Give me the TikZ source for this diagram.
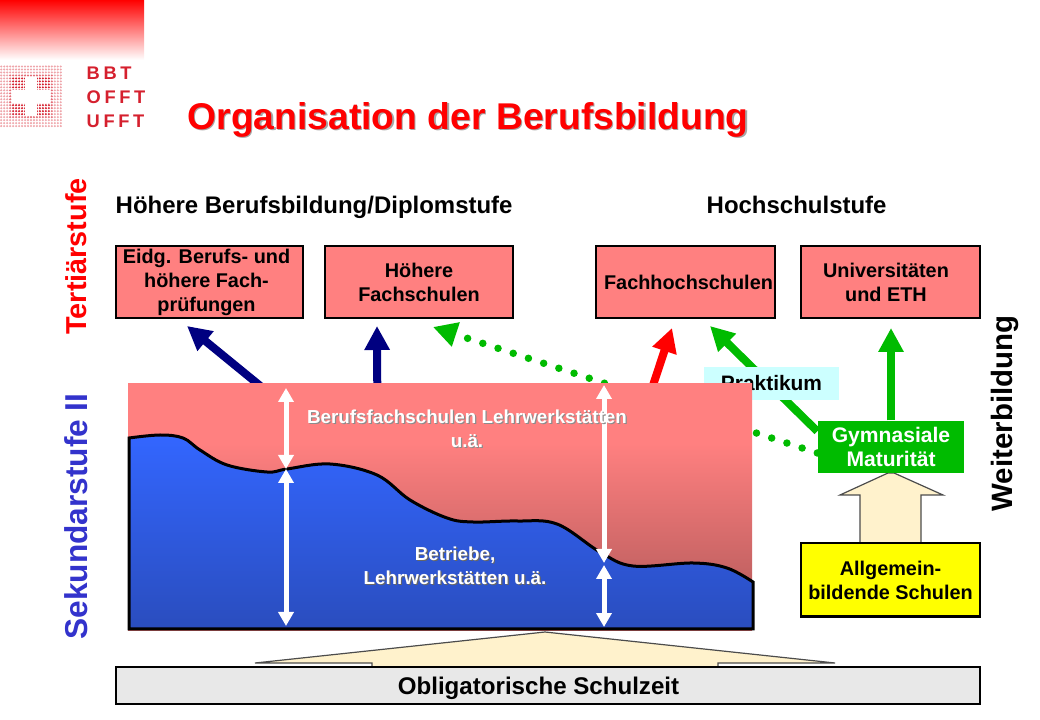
\documentclass[tikz,border=0pt]{standalone}
\usepackage{fontspec}
\setmainfont{Liberation Sans}
\newfontfamily\logofont[LetterSpace=20]{Liberation Sans}
\usetikzlibrary{arrows.meta, backgrounds}

\definecolor{boxred}{HTML}{FF8080}
\definecolor{boxgreen}{HTML}{00BB00}
\definecolor{boxcream}{HTML}{FFF2CC}
\definecolor{boxyellow}{HTML}{FFFF00}
\definecolor{navyline}{HTML}{000080}
\definecolor{logored}{HTML}{D5202E}

% Text with a soft shadow behind it
\newcommand{\shadowtxt}[2]{\leavevmode\rlap{\kern0.35pt\raisebox{-0.35pt}{\color{#1}#2}}#2}
% Bold text in a given size, always the same leading
\newcommand{\bodyfont}[1]{\fontsize{#1}{6.85}\selectfont\bfseries}

\pgfdeclareverticalshading{panelshade}{100bp}{color(0bp)=(boxred!70!black); color(36bp)=(boxred!77!black); color(63bp)=(boxred); color(100bp)=(boxred)}

\tikzset{
	bodytext/.style={font=\bodyfont{5.65}, align=center, inner sep=0pt},
	schoolbox/.style={draw=black, line width=0.02cm, fill=boxred, minimum height=0.72cm, inner sep=0pt, bodytext},
	sidetext/.style={rotate=90, inner sep=0pt},
	logotext/.style={font=\logofont\fontsize{5.2}{5}\selectfont\bfseries, text=logored, anchor=west, inner sep=0pt},
	upstrich/.style={-{Triangle[length=0.24cm, width=0.24cm]}, line width=0.08cm},
	whitearrow/.style={{Triangle[length=0.14cm, width=0.15cm]}-{Triangle[length=0.14cm, width=0.15cm]}, white, line width=0.05cm},
	creamarrow/.style={draw=black!70, line width=0.012cm, fill=boxcream}
}

\begin{document}
\begin{tikzpicture}[x=1cm, y=-1cm]
	\useasboundingbox (0,0) rectangle (10.4,7.2);

	% Logo oben links
	\shade[top color=red, bottom color=white] (0,0) rectangle (1.44,0.6);
	\foreach \i in {0,...,20} {
		\foreach \j in {0,...,20} {
			\pgfmathsetmacro{\dotx}{0.012+0.0298*\i}
			\pgfmathsetmacro{\doty}{0.665+0.0298*\j}
			\pgfmathtruncatemacro{\dist}{max(abs(\i-10),abs(\j-10))}
			\pgfmathtruncatemacro{\dotpct}{\dist<7 ? 100 : (\dist<8 ? 65 : 40)}
			\fill[logored!\dotpct!white] (\dotx,\doty) circle (0.0115);
		}
	}
	\fill[white] (0.12,0.90) rectangle (0.50,1.03);
	\fill[white] (0.25,0.77) rectangle (0.37,1.16);
	\node[logotext] (bbt) at (0.86,0.735) {BBT};
	\node[logotext] (offt) at (0.86,0.975) {OFFT};
	\node[logotext] (ufft) at (0.86,1.215) {UFFT};

	% Titel
	\node[font=\fontsize{10.6}{12}\selectfont\bfseries, text=red, anchor=base west, inner sep=0pt] (title) at (1.87,1.295) {\shadowtxt{black!35}{Organisation der Berufsbildung}};

	% Seitliche Beschriftungen
	\node[sidetext, font=\fontsize{8.2}{9}\selectfont\bfseries, text=red] (tertiaer) at (0.765,2.565) {Tertiärstufe};
	\node[sidetext, font=\fontsize{9}{9}\selectfont\bfseries, text={rgb,255:red,51;green,51;blue,204}] (sekundar) at (0.765,5.165) {Sekundarstufe II};
	\node[sidetext, font=\fontsize{8.37}{9}\selectfont\bfseries] (weiter) at (10.05,4.135) {Weiterbildung};

	% Stufen
	\node[bodytext, font=\bodyfont{6.82}, anchor=base west] (diplom) at (1.15,2.14) {Höhere Berufsbildung/Diplomstufe};
	\node[bodytext, font=\bodyfont{6.82}, anchor=base west] (hochschul) at (7.06,2.14) {Hochschulstufe};

	% Obere Kaesten
	\node[schoolbox, minimum width=1.87cm] (eidg) at (2.095,2.82) {\hspace*{-0.06cm}Eidg. Berufs- und\\\hspace*{-0.06cm}höhere Fach-\\\hspace*{-0.06cm}prüfungen};
	\node[schoolbox, minimum width=1.88cm] (hfs) at (4.19,2.82) {Höhere\\Fachschulen};
	\node[schoolbox, minimum width=1.79cm] (fh) at (6.855,2.82) {\hspace*{0.06cm}Fachhochschulen};
	\node[schoolbox, minimum width=1.79cm] (uni) at (8.905,2.82) {\hspace*{-0.09cm}Universitäten\\\hspace*{-0.09cm}und ETH};

	% Spitzen der Pfeile
	\coordinate (tipeidg) at (1.87,3.26);
	\coordinate (tiphfs) at (3.77,3.26);
	\coordinate (tipdots) at (4.33,3.27);
	\coordinate (tipfh) at (6.72,3.28);
	\coordinate (tipprakt) at (7.10,3.26);
	\coordinate (tipuni) at (8.91,3.28);

	% Praktikum und Maturitaet
	\node[fill={rgb,255:red,204;green,255;blue,255}, minimum width=1.35cm, minimum height=0.33cm, bodytext, font=\bodyfont{5.95}] (prakt) at (7.715,3.835) {Praktikum};
	\node[fill=boxgreen, text=white, minimum width=1.46cm, minimum height=0.52cm, bodytext, font=\bodyfont{6}] (gym) at (8.91,4.47) {Gymnasiale\\Maturität};

	% Grosse Flaeche
	\node[shading=panelshade, minimum width=6.24cm, minimum height=2.46cm, inner sep=0pt] (panel) at (4.40,5.07) {};
	\shade[top color={rgb,255:red,51;green,102;blue,255}, bottom color={rgb,255:red,42;green,77;blue,190}, draw=black, line width=0.03cm]
		plot[smooth, tension=0.6] coordinates {(1.29,4.38) (1.60,4.35) (1.83,4.38) (2.00,4.50) (2.27,4.65) (2.67,4.72) (2.87,4.69) (3.30,4.64) (3.77,4.75) (4.10,5.00) (4.47,5.18) (4.73,5.22) (5.17,5.21) (5.57,5.24) (6.00,5.52) (6.33,5.66) (6.93,5.63) (7.27,5.68) (7.53,5.82)}
		-- (7.53,6.29) -- (1.29,6.29) -- cycle;

	% Weisse Pfeile
	\coordinate (lefttop) at (2.86,3.88);
	\coordinate (leftmid) at (2.86,4.69);
	\coordinate (leftlow) at (2.86,6.26);
	\coordinate (righttop) at (6.04,3.85);
	\coordinate (rightmid) at (6.04,5.63);
	\coordinate (rightsplit) at (6.04,5.65);
	\coordinate (rightlow) at (6.04,6.27);
	\draw[whitearrow] (lefttop) -- (leftmid);
	\draw[whitearrow] (leftmid) -- (leftlow);
	\draw[whitearrow] (righttop) -- (rightmid);
	\draw[whitearrow] (rightsplit) -- (rightlow);

	% Texte auf der Flaeche
	\node[bodytext, font=\bodyfont{5.35}, text=white] (bfs) at (4.67,4.29) {\shadowtxt{black!45}{Berufsfachschulen Lehrwerkstätten}\\\shadowtxt{black!45}{u.ä.}};
	\node[bodytext, font=\bodyfont{5.35}, text=white] (betr) at (4.55,5.66) {\shadowtxt{black!60}{Betriebe,}\\\shadowtxt{black!60}{Lehrwerkstätten u.ä.}};

	% Untere Kaesten
	\node[schoolbox, fill=boxyellow, minimum width=1.79cm, minimum height=0.73cm] (allg) at (8.905,5.80) {Allgemein-\\bildende Schulen};
	\node[schoolbox, fill=black!9, minimum width=8.64cm, minimum height=0.37cm, font=\bodyfont{6.86}, text depth=0pt] (oblig) at (5.48,6.855) {\hspace*{-0.19cm}Obligatorische Schulzeit};

	\begin{scope}[on background layer]
		% Pfeile nach oben
		\draw[upstrich, navyline] ([xshift=1.42cm, yshift=-0.1cm]panel.north west) -- (tipeidg);
		\draw[upstrich, navyline] ([xshift=2.50cm, yshift=-0.1cm]panel.north west) -- (tiphfs);
		\draw[upstrich, red] ([xshift=5.23cm, yshift=-0.1cm]panel.north west) -- (tipfh);
		\draw[upstrich, boxgreen] ([yshift=-0.11cm]gym.north west) -- (tipprakt);
		\draw[upstrich, boxgreen] (gym.north) -- (tipuni);
		% Punktierte Linie
		\draw[boxgreen, -{Triangle[length=0.24cm, width=0.24cm]}, line width=0.075cm, line cap=round, dash pattern=on 0pt off 0.16cm] ([yshift=-0.06cm]gym.west) -- (tipdots);
		% Breite Pfeile
		\draw[creamarrow] (allg.north -| 8.60,0) -- (8.60,4.95) -- (8.40,4.95) -- (8.88,4.73) -- (8.94,4.73) -- (9.43,4.95) -- (9.21,4.95) -- (allg.north -| 9.21,0);
		\draw[creamarrow] (oblig.north -| 3.72,0) -- (3.72,6.63) -- (2.55,6.63) -- (5.45,6.32) -- (8.35,6.63) -- (7.18,6.63) -- (oblig.north -| 7.18,0);
	\end{scope}
\end{tikzpicture}
\end{document}
